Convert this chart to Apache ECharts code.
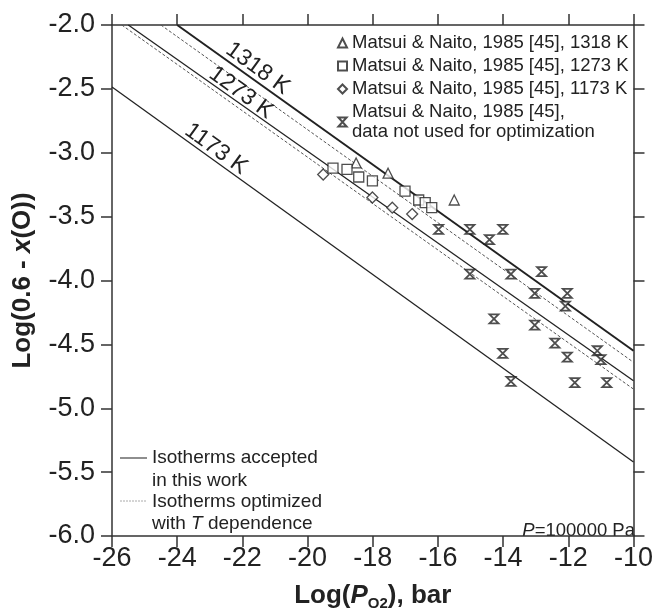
<!DOCTYPE html>
<html>
<head>
<meta charset="utf-8">
<script src="https://cdn.jsdelivr.net/npm/echarts@6/dist/echarts.min.js"></script>
<style>
  html, body { margin: 0; padding: 0; background: #fff; }
  #chart-container { width: 656px; height: 616px; }
</style>
</head>
<body>
<div id="chart-container"></div>
<script>
var FONT = "Liberation Sans";

// measured points, Matsui & Naito 1985
var tri1318 = [[-18.51, -3.08], [-17.53, -3.16], [-15.50, -3.37]];
var sq1273 = [[-19.22, -3.12], [-18.79, -3.13], [-18.43, -3.19], [-18.01, -3.22],
  [-17.01, -3.30], [-16.59, -3.37], [-16.39, -3.39], [-16.19, -3.43]];
var dia1173 = [[-19.52, -3.17], [-18.01, -3.35], [-17.40, -3.43], [-16.79, -3.48]];
var notUsed = [[-15.98, -3.60], [-15.02, -3.60], [-14.01, -3.60], [-14.42, -3.68],
  [-15.02, -3.95], [-13.76, -3.95], [-12.82, -3.93], [-13.03, -4.10], [-12.03, -4.10],
  [-12.09, -4.20], [-14.28, -4.30], [-13.03, -4.35], [-12.41, -4.49], [-14.01, -4.57],
  [-12.03, -4.60], [-11.11, -4.55], [-11.00, -4.62], [-13.76, -4.79], [-11.80, -4.80],
  [-10.82, -4.80]];

// isotherms (end points)
var iso1318 = [[-24.0, -2.0], [-10, -4.55]];
var iso1318T = [[-24.5, -2.0], [-10, -4.64]];
var iso1273 = [[-25.5, -2.0], [-10, -4.785]];
var iso1273T = [[-25.7, -2.0], [-10, -4.85]];
var iso1173 = [[-26, -2.485], [-10, -5.42]];

// isotherm labels: text, x, y
var isoLabels = [["1318 K", -21.53, -2.34], ["1273 K", -22.04, -2.53], ["1173 K", -22.81, -2.97]];

var names = [
  "Matsui & Naito, 1985 [45], 1318 K",
  "Matsui & Naito, 1985 [45], 1273 K",
  "Matsui & Naito, 1985 [45], 1173 K",
  "Matsui & Naito, 1985 [45],\ndata not used for optimization"
];

var dom = document.getElementById("chart-container");
var myChart = echarts.init(dom, null, { renderer: "canvas" });

var ink = "#222";
var markStyle = { color: "#fff", borderColor: ink, borderWidth: 1.3 };

function isoLine(data, width, dotted) {
  return {
    type: "line",
    data: data,
    symbol: "none",
    silent: true,
    z: 2,
    lineStyle: dotted
      ? { color: "#555", width: 1, type: [3, 2] }
      : { color: ink, width: width },
  };
}

function labelPoint(i) {
  var l = isoLabels[i];
  return {
    symbol: "circle",
    symbolSize: 0,
    silent: true,
    data: [{ coord: [l[1], l[2]], value: l[0] }],
    label: {
      show: true,
      position: "inside",
      formatter: "{c}",
      rotate: -36,
      fontSize: 23,
      fontFamily: FONT,
      color: "#222",
    },
  };
}

var s1318 = isoLine(iso1318, 2, false);
s1318.markPoint = labelPoint(0);
var s1273 = isoLine(iso1273, 1.3, false);
s1273.markPoint = labelPoint(1);
var s1173 = isoLine(iso1173, 1.3, false);
s1173.markPoint = labelPoint(2);

var axisCommon = {
  axisLine: { show: true, onZero: false, lineStyle: { color: "#333", width: 1.5 } },
  axisTick: { show: true, inside: false, length: 11, lineStyle: { color: "#333", width: 1.5 } },
  splitLine: { show: false },
};

var option = {
  backgroundColor: "#fff",
  animation: false,
  textStyle: { fontFamily: FONT },
  grid: { left: 112, right: 17, top: 25, bottom: 74 },
  xAxis: [
    Object.assign({}, axisCommon, {
      type: "value",
      min: -26, max: -10, interval: 2,
      position: "bottom",
      axisLabel: { fontSize: 27, color: "#222", margin: 9, fontFamily: FONT },
      name: "{b|Log(}{i|P}{sub|O2}{b|), bar}",
      nameLocation: "middle",
      nameGap: 45,
      nameTextStyle: {
        rich: {
          b: { fontSize: 26, fontWeight: "bold", color: "#222", fontFamily: FONT, lineHeight: 30 },
          i: { fontSize: 26, fontWeight: "bold", fontStyle: "italic", color: "#222", fontFamily: FONT, lineHeight: 30 },
          sub: { fontSize: 15, fontWeight: "bold", color: "#222", fontFamily: FONT, lineHeight: 15, verticalAlign: "bottom" },
        },
      },
    }),
    Object.assign({}, axisCommon, {
      type: "value",
      min: -26, max: -10, interval: 2,
      position: "top",
      axisLabel: { show: false },
    }),
  ],
  yAxis: [
    Object.assign({}, axisCommon, {
      type: "value",
      min: -6, max: -2, interval: 0.5,
      position: "left",
      axisLabel: {
        fontSize: 27, color: "#222", margin: 17, fontFamily: FONT,
        formatter: function (v) { return v.toFixed(1); },
      },
      name: "{b|Log(0.6 - }{i|x}{b|(O))}",
      nameLocation: "middle",
      nameGap: 76,
      nameTextStyle: {
        rich: {
          b: { fontSize: 26, fontWeight: "bold", color: "#222", fontFamily: FONT },
          i: { fontSize: 26, fontWeight: "bold", fontStyle: "italic", color: "#222", fontFamily: FONT },
        },
      },
    }),
    Object.assign({}, axisCommon, {
      type: "value",
      min: -6, max: -2, interval: 0.5,
      position: "right",
      axisLabel: { show: false },
    }),
  ],
  legend: [
    {
      orient: "vertical",
      left: 337,
      top: 33,
      padding: 0,
      itemWidth: 9,
      itemHeight: 9,
      itemGap: 3,
      selectedMode: false,
      data: names,
      textStyle: { fontSize: 18.5, lineHeight: 20, color: "#222", fontFamily: FONT },
    },
  ],
  series: [
    isoLine(iso1318T, 1, true),
    isoLine(iso1273T, 1, true),
    s1318,
    s1273,
    s1173,
    {
      type: "scatter", name: names[0], data: tri1318,
      symbol: "triangle", symbolSize: 10, itemStyle: markStyle, z: 5,
    },
    {
      type: "scatter", name: names[1], data: sq1273,
      symbol: "rect", symbolSize: 10, itemStyle: markStyle, z: 5,
    },
    {
      type: "scatter", name: names[2], data: dia1173,
      symbol: "diamond", symbolSize: 11, itemStyle: markStyle, z: 5,
    },
    {
      type: "scatter", name: names[3], data: notUsed,
      symbol: "path://M0,0L10,0L0,11L10,11Z", symbolSize: [9, 9],
      itemStyle: { color: "#fff", borderColor: ink, borderWidth: 1.8 }, z: 5,
    },
  ],
  graphic: [
    {
      type: "line", silent: true,
      shape: { x1: 120, y1: 458, x2: 147, y2: 458 },
      style: { stroke: "#444", lineWidth: 1.2 },
    },
    {
      type: "text", silent: true, x: 152, y: 446,
      style: {
        text: "Isotherms accepted\nin this work",
        font: "19px " + FONT, fill: "#222", lineHeight: 23, verticalAlign: "top",
      },
    },
    {
      type: "line", silent: true,
      shape: { x1: 120, y1: 501, x2: 147, y2: 501 },
      style: { stroke: "#aaa", lineWidth: 1, lineDash: [2, 1] },
    },
    {
      type: "text", silent: true, x: 152, y: 491,
      style: {
        text: "{n|Isotherms optimized}\n{n|with }{i|T}{n| dependence}",
        verticalAlign: "top",
        rich: {
          n: { fontSize: 19, fontFamily: FONT, fill: "#222", lineHeight: 22 },
          i: { fontSize: 19, fontFamily: FONT, fontStyle: "italic", fill: "#222", lineHeight: 22 },
        },
      },
    },
    {
      type: "text", silent: true, right: 21, top: 521,
      style: {
        text: "{i|P}{n|=100000 Pa}",
        rich: {
          n: { fontSize: 18.5, fontFamily: FONT, fill: "#222" },
          i: { fontSize: 18.5, fontFamily: FONT, fontStyle: "italic", fill: "#222" },
        },
      },
    },
  ],
};

myChart.setOption(option);
window.addEventListener("resize", myChart.resize);
</script>
</body>
</html>
